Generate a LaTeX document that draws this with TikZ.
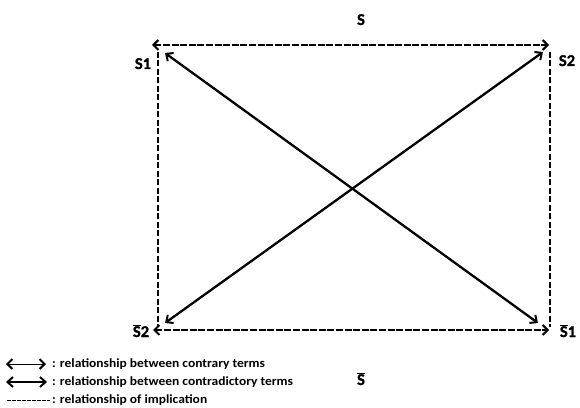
\documentclass[tikz,border=0pt]{standalone}
\usepackage{fontspec}
\setmainfont{Carlito}
\newfontfamily\legfont{Carlito}[FakeStretch=1.08]
\newfontfamily\lblfont{Carlito}[FakeBold=1.2]
\usetikzlibrary{arrows.meta}
\begin{document}
\begin{tikzpicture}[x=1pt,y=1pt,
  lbl/.style={font=\lblfont\bfseries\fontsize{16.5}{16.5}\selectfont, inner sep=0pt, anchor=base},
  leg/.style={font=\legfont\bfseries\fontsize{12.5}{12.5}\selectfont, inner sep=0pt, anchor=west},
  contrary/.style={line width=2.4pt, dash pattern=on 7pt off 1.6pt, {Straight Barb[length=5pt,width=10pt,line width=2pt]}-{Straight Barb[length=5pt,width=10pt,line width=2pt]}},
  contra/.style={line width=2.3pt, {Straight Barb[length=5.5pt,width=10pt,line width=2pt]}-{Straight Barb[length=5.5pt,width=10pt,line width=2pt]}},
  implic/.style={line width=2.2pt, dash pattern=on 6pt off 2.5pt},
  contraryleg/.style={line width=0.9pt, {Straight Barb[length=5pt,width=10pt,line width=2pt]}-{Straight Barb[length=5pt,width=10pt,line width=2pt]}},
  implicleg/.style={line width=1pt, dash pattern=on 4pt off 1pt}]
\useasboundingbox (0,0) rectangle (580,407);
% corners
\coordinate (TLa) at (152,362);
\coordinate (TRa) at (549,362);
\coordinate (BLa) at (153,77);
\coordinate (BRa) at (549,77);
\coordinate (TLv) at (158,355);
\coordinate (BLv) at (158,80);
\coordinate (TRv) at (550,355);
\coordinate (BRv) at (550,80);
\coordinate (D1a) at (165,354);
\coordinate (D1b) at (538,84);
\coordinate (D2a) at (543,355);
\coordinate (D2b) at (165,84);
% labels
\node[lbl] (s) at (361,382) {S};
\node[lbl] (s1) at (143,338) {S1};
\node[lbl] (s2) at (567,341) {S2};
\node[lbl] (s2b) at (141,70) {$\overline{\mbox{S}}$2};
\node[lbl] (s1b) at (568,70) {$\overline{\mbox{S}}$1};
\node[lbl] (sb) at (361,22) {$\overline{\mbox{S}}$};
% relations
\draw[implic] (TLv) -- (BLv);
\draw[implic] (TRv) -- (BRv);
\draw[contrary] (TLa) -- (TRa);
\draw[contrary] (BLa) -- (BRa);
\draw[contra] (D1a) -- (D1b);
\draw[contra] (D2a) -- (D2b);
% legend
\coordinate (L1a) at (6,43);
\coordinate (L1b) at (46,43);
\coordinate (L2a) at (6,25);
\coordinate (L2b) at (47,25);
\coordinate (L3a) at (7,7);
\coordinate (L3b) at (50,7);
\draw[contraryleg] (L1a) -- (L1b);
\draw[contra] (L2a) -- (L2b);
\draw[implicleg] (L3a) -- (L3b);
\node[leg] (t1) at (52,43) {: relationship between contrary terms};
\node[leg] (t2) at (52,25) {: relationship between contradictory terms};
\node[leg] (t3) at (52,7) {: relationship of implication};
\end{tikzpicture}
\end{document}
